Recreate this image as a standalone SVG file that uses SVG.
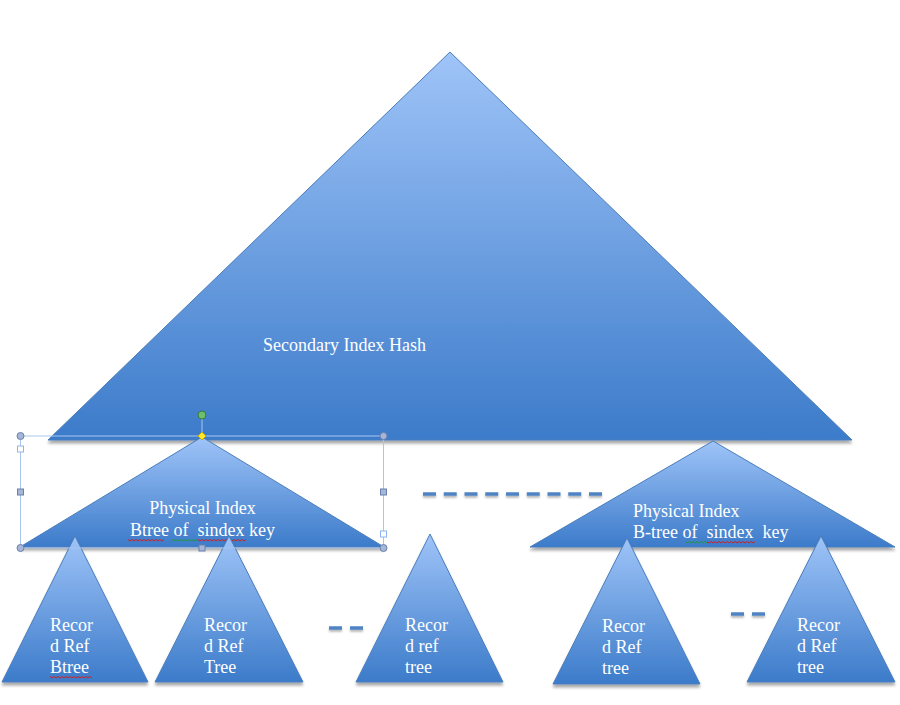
<svg xmlns="http://www.w3.org/2000/svg" width="900" height="705" viewBox="0 0 900 705">
<defs>
<linearGradient id="g" x1="0" y1="0" x2="0" y2="1">
<stop offset="0" stop-color="#9fc4f8"/>
<stop offset="1" stop-color="#3c7bca"/>
</linearGradient>
<filter id="sh" x="-10%" y="-10%" width="120%" height="130%">
<feGaussianBlur in="SourceAlpha" stdDeviation="1.5"/>
<feOffset dy="2.5" result="b"/>
<feComponentTransfer><feFuncA type="linear" slope="0.35"/></feComponentTransfer>
<feMerge><feMergeNode/><feMergeNode in="SourceGraphic"/></feMerge>
</filter>
<filter id="shl" filterUnits="userSpaceOnUse" x="0" y="0" width="900" height="705">
<feGaussianBlur in="SourceAlpha" stdDeviation="1.2"/>
<feOffset dy="2"/>
<feComponentTransfer><feFuncA type="linear" slope="0.3"/></feComponentTransfer>
<feMerge><feMergeNode/><feMergeNode in="SourceGraphic"/></feMerge>
</filter>
</defs>
<style>
.tri{fill:url(#g);stroke:#4a7ebb;stroke-width:1;filter:url(#sh)}
.t{font-family:"Liberation Serif","Times New Roman",serif;font-size:18px;fill:#ffffff}
.pre{white-space:pre}
.dash{stroke:#4f84c4;stroke-width:3.5;filter:url(#shl)}
.sqr{fill:none;stroke-width:1;stroke:#d02020}
.sqg{fill:none;stroke-width:1;stroke:#1f9a3a}
.sel{fill:none;stroke:#a9c5f0;stroke-width:1}
.h{fill:#a6b6d6;stroke:#6a80ae;stroke-width:1}
.ho{fill:#ffffff;stroke:#8fb3f0;stroke-width:1}
</style>
<rect width="900" height="705" fill="#ffffff"/>
<g id="secondary-index-hash">
<polygon class="tri" points="450,52 852,440 48,440"/>
<text class="t" x="344.5" y="351" text-anchor="middle">Secondary Index Hash</text>
</g>
<g id="physical-index-left">
<polygon class="tri" points="202,437 384,547 20,547"/>
<text class="t" x="202.5" y="514" text-anchor="middle">Physical Index</text>
<text class="t pre" x="202.5" y="536" text-anchor="middle">Btree of  sindex key</text>
<path class="sqr" d="M128,539.5 l2,1.5 2,-1.5 2,1.5 2,-1.5 2,1.5 2,-1.5 2,1.5 2,-1.5 2,1.5 2,-1.5 2,1.5 2,-1.5 2,1.5 2,-1.5 2,1.5 2,-1.5 2,1.5 2,-1.5"/>
<path class="sqg" d="M172,539.5 l2,1.5 2,-1.5 2,1.5 2,-1.5 2,1.5 2,-1.5 2,1.5 2,-1.5 2,1.5 2,-1.5 2,1.5 2,-1.5 2,1.5"/>
<path class="sqr" d="M198,539.5 l2,1.5 2,-1.5 2,1.5 2,-1.5 2,1.5 2,-1.5 2,1.5 2,-1.5 2,1.5 2,-1.5 2,1.5 2,-1.5 2,1.5 2,-1.5 2,1.5 2,-1.5 2,1.5 2,-1.5 2,1.5 2,-1.5 2,1.5 2,-1.5 2,1.5 2,-1.5"/>
</g>
<g id="physical-index-right">
<polygon class="tri" points="713,441 895,547 530,547"/>
<text class="t" x="633" y="517">Physical Index</text>
<text class="t pre" x="633" y="538">B-tree of  sindex  key</text>
<path class="sqg" d="M685,541.5 l2,1.5 2,-1.5 2,1.5 2,-1.5 2,1.5 2,-1.5 2,1.5 2,-1.5 2,1.5 2,-1.5 2,1.5"/>
<path class="sqr" d="M707,541.5 l2,1.5 2,-1.5 2,1.5 2,-1.5 2,1.5 2,-1.5 2,1.5 2,-1.5 2,1.5 2,-1.5 2,1.5 2,-1.5 2,1.5 2,-1.5 2,1.5 2,-1.5 2,1.5 2,-1.5 2,1.5 2,-1.5 2,1.5 2,-1.5 2,1.5 2,-1.5"/>
</g>
<g id="record-ref-1">
<polygon class="tri" points="75,536 148,682 2,682"/>
<text class="t" x="50" y="631">Recor</text>
<text class="t" x="50" y="652">d Ref</text>
<text class="t" x="50" y="673">Btree</text>
<path class="sqr" d="M50,676.5 l2,1.5 2,-1.5 2,1.5 2,-1.5 2,1.5 2,-1.5 2,1.5 2,-1.5 2,1.5 2,-1.5 2,1.5 2,-1.5 2,1.5 2,-1.5 2,1.5 2,-1.5 2,1.5 2,-1.5 2,1.5 2,-1.5 2,1.5"/>
</g>
<g id="record-ref-2">
<polygon class="tri" points="229,536 303,682 155,682"/>
<text class="t" x="204" y="631">Recor</text>
<text class="t" x="204" y="652">d Ref</text>
<text class="t" x="204" y="673">Tree</text>
</g>
<g id="record-ref-3">
<polygon class="tri" points="430,534 503,682 356,682"/>
<text class="t" x="405" y="631">Recor</text>
<text class="t" x="405" y="652">d ref</text>
<text class="t" x="405" y="673">tree</text>
</g>
<g id="record-ref-4">
<polygon class="tri" points="627,538 700,684 553,684"/>
<text class="t" x="602" y="632">Recor</text>
<text class="t" x="602" y="653">d Ref</text>
<text class="t" x="602" y="674">tree</text>
</g>
<g id="record-ref-5">
<polygon class="tri" points="821,536 895,682 747,682"/>
<text class="t" x="797" y="631">Recor</text>
<text class="t" x="797" y="652">d Ref</text>
<text class="t" x="797" y="673">tree</text>
</g>
<g id="connectors">
<line class="dash" x1="423" y1="494" x2="602" y2="494" stroke-dasharray="13 7.75"/>
<line class="dash" x1="329" y1="628" x2="363" y2="628" stroke-dasharray="13 8"/>
<line class="dash" x1="731" y1="614" x2="765" y2="614" stroke-dasharray="13 8"/>
</g>
<g id="selection">
<rect class="sel" x="20.5" y="436" width="363" height="112"/>
<line class="sel" x1="202" y1="415" x2="202" y2="436"/>
<circle cx="202" cy="415" r="4" fill="#6cbf6c" stroke="#3c7a3c"/>
<circle class="h" cx="20.5" cy="436" r="3.5"/>
<circle class="h" cx="383.5" cy="436" r="3.5"/>
<circle class="h" cx="20.5" cy="548" r="3.5"/>
<circle class="h" cx="383.5" cy="548" r="3.5"/>
<rect class="h" x="17.5" y="489" width="6" height="6"/>
<rect class="h" x="380.5" y="489" width="6" height="6"/>
<rect class="h" x="199" y="545" width="6" height="6"/>
<rect class="ho" x="17.5" y="446" width="6" height="6"/>
<rect class="ho" x="380.5" y="531" width="6" height="6"/>
<polygon points="202,432 206,436 202,440 198,436" fill="#ffe82a" stroke="#c9a800" stroke-width="1"/>
</g>
</svg>
